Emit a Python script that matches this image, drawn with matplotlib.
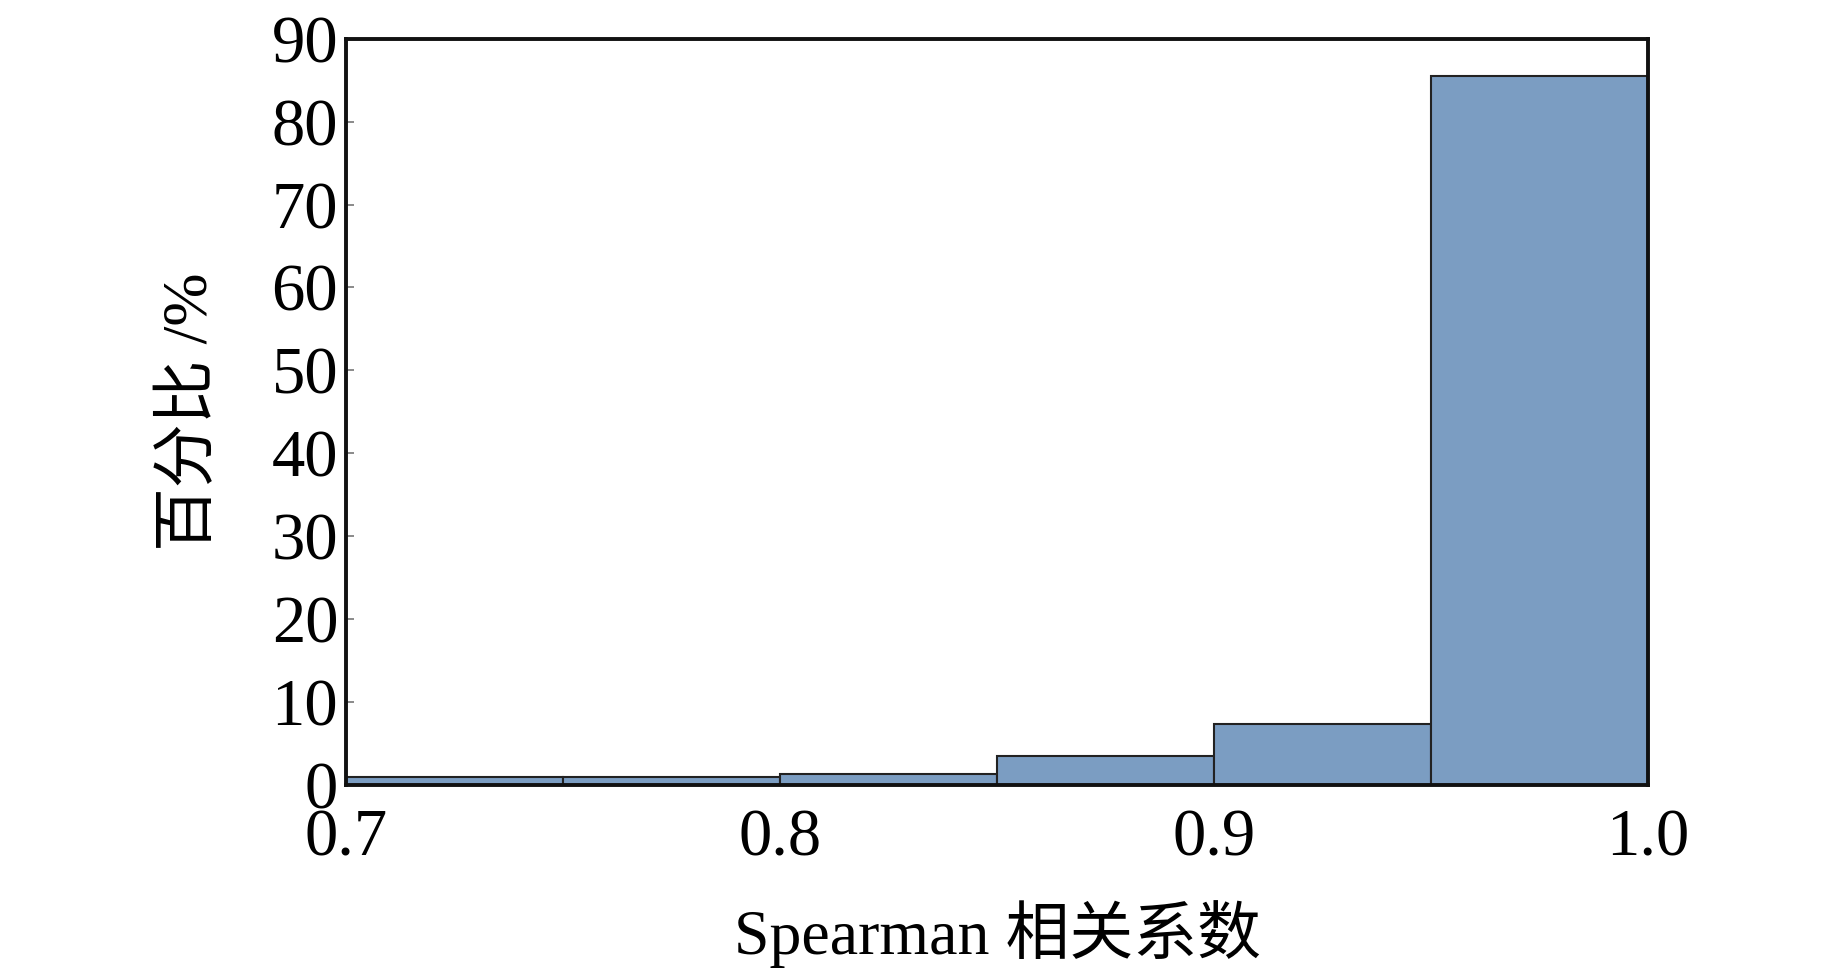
# Spearman 相关系数分布直方图
import numpy as np
import matplotlib.pyplot as plt

plt.rcParams['font.family'] = ['Liberation Serif', 'Noto Sans CJK SC']

# 分箱左边界与各箱百分比
bin_left = [0.70, 0.75, 0.80, 0.85, 0.90, 0.95]
percent = [1.0, 1.0, 1.35, 3.5, 7.35, 85.5]
bin_width = 0.05

x_ticks = [0.7, 0.8, 0.9, 1.0]
x_ticklabels = ['0.7', '0.8', '0.9', '1.0']
y_ticks = [0, 10, 20, 30, 40, 50, 60, 70, 80, 90]

fig = plt.figure(figsize=(18.43, 9.69), dpi=100)
ax = fig.add_axes([0.188, 0.190, 0.706, 0.770])

ax.bar(bin_left, percent, width=bin_width, align='edge',
       color='#7b9dc2', edgecolor='#222222', linewidth=1.5)

ax.set_xlim(0.7, 1.0)
ax.set_ylim(0, 90)
ax.set_xticks(x_ticks)
ax.set_xticklabels(x_ticklabels)
ax.set_yticks(y_ticks)
ax.tick_params(axis='both', direction='in', length=6, width=1.2,
               color='#777777', labelsize=48, pad=6)
ax.tick_params(axis='x', length=0, pad=17)
for s in ax.spines.values():
    s.set_linewidth(2.8)
    s.set_color('#111111')

ax.set_xlabel('Spearman 相关系数', fontsize=46, labelpad=22)
ax.set_ylabel('百分比 /%', fontsize=46, labelpad=36)

fig.savefig('out.png', dpi=100)
